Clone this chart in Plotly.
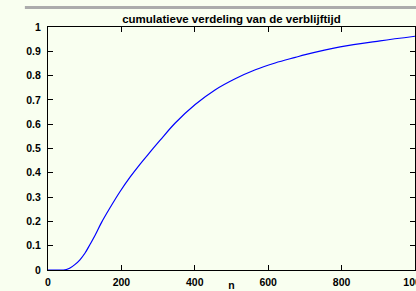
import plotly.graph_objects as go

# Data
n_values = [0, 42, 50, 60, 73, 87, 101, 114, 128, 146, 169, 196, 224, 251, 278,
            305, 346, 401, 455, 510, 565, 619, 674, 701, 796, 905, 1000]
cdf_values = [0.0, 0.0, 0.002, 0.008, 0.022, 0.042, 0.07, 0.104, 0.142, 0.196,
              0.256, 0.322, 0.383, 0.436, 0.485, 0.533, 0.604, 0.681, 0.741,
              0.787, 0.824, 0.852, 0.875, 0.886, 0.918, 0.943, 0.962]
x_ticks = [0, 200, 400, 600, 800, 1000]
y_ticks = [0, 0.1, 0.2, 0.3, 0.4, 0.5, 0.6, 0.7, 0.8, 0.9, 1]
y_tick_labels = ["0", "0.1", "0.2", "0.3", "0.4", "0.5", "0.6", "0.7", "0.8", "0.9", "1"]
title_text = "cumulatieve verdeling van de verblijftijd"
x_label = "n"

BG = "#f9fff0"
FONT = "Liberation Sans"

fig = go.Figure()
fig.add_trace(go.Scatter(
    x=n_values, y=cdf_values, mode="lines",
    line=dict(color="#0000ff", width=1.2, shape="spline", smoothing=1.0),
    hoverinfo="skip", showlegend=False,
))

axis_common = dict(
    showline=True, linecolor="black", linewidth=1, mirror="ticks",
    ticks="inside", ticklen=5, tickwidth=1, tickcolor="black",
    showgrid=False, zeroline=False, automargin=False,
    ticklabeloverflow="allow",
    tickfont=dict(family=FONT, size=10.5, color="black", weight="bold"),
)

fig.update_layout(
    width=416, height=291,
    margin=dict(l=48, r=1, t=27, b=21, autoexpand=False),
    paper_bgcolor=BG, plot_bgcolor=BG,
    title=dict(text=title_text, x=0.5, xref="paper", y=1 - 19 / 291,
               yref="container", yanchor="middle",
               font=dict(family=FONT, size=11.5, color="black", weight="bold")),
    xaxis=dict(range=[0, 1000], tickvals=x_ticks, ticklabelstandoff=2,
               title=dict(text=x_label, standoff=0,
                          font=dict(family=FONT, size=10.5, color="black", weight="bold")),
               **axis_common),
    yaxis=dict(range=[0, 1], tickvals=y_ticks, ticktext=y_tick_labels,
               ticklabelstandoff=4, **axis_common),
    shapes=[dict(type="rect", xref="paper", yref="paper",
                 x0=-0.063, x1=1.01, y0=1.074, y1=1.086,
                 fillcolor="#acacac", line=dict(width=0), layer="above")],
)

fig.write_html(
    "out.html",
    config={"displayModeBar": False},
    post_script=("document.body.style.margin='0';"
                 "document.body.style.overflow='hidden';"
                 "document.body.style.background='" + BG + "';"),
)
